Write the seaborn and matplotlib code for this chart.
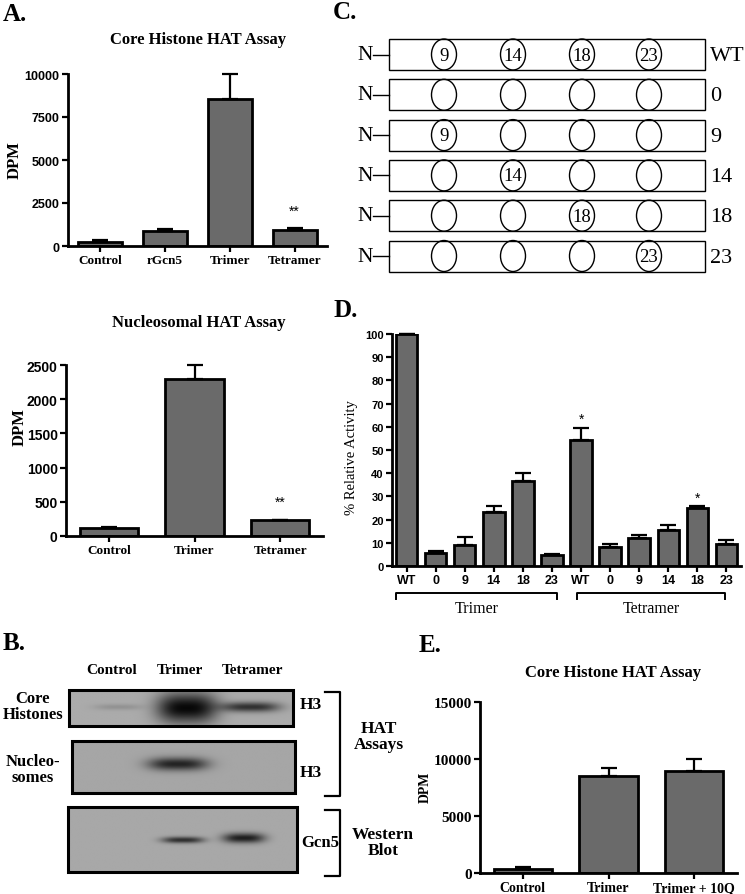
import numpy as np
import matplotlib
matplotlib.use("Agg")
import matplotlib.pyplot as plt
import seaborn as sns
from matplotlib.patches import Rectangle, Ellipse

# ---- data ----
core_cats = ["Control", "rGcn5", "Trimer", "Tetramer"]
core_dpm = [230, 870, 8530, 950]
core_err = [90, 130, 1470, 100]

nuc_cats = ["Control", "Trimer", "Tetramer"]
nuc_dpm = [122, 2295, 234]
nuc_err = [10, 200, 6]

mut_labels = ["WT", "0", "9", "14", "18", "23"]
trimer_act = [100, 5.5, 8.9, 23.3, 36.8, 4.9]
trimer_err = [0, 1.0, 3.6, 2.5, 3.5, 0.4]
tetramer_act = [54.2, 8.2, 11.9, 15.5, 24.9, 9.6]
tetramer_err = [5.2, 1.2, 1.6, 2.1, 1.0, 1.8]

e_cats = ["Control", "Trimer", "Trimer + 10Q"]
e_dpm = [350, 8500, 8950]
e_err = [150, 740, 1080]

lysines = [9, 14, 18, 23]
variants = ["WT", "0", "9", "14", "18", "23"]

blot_lanes = ["Control", "Trimer", "Tetramer"]
core_band = [0.15, 1.0, 0.75]
nuc_band = [0.0, 0.8, 0.0]
gcn5_band = [0.0, 0.75, 0.85]

SERIF = "Liberation Serif"
SANS = "Liberation Sans"
GRAY = "#6a6a6a"
W, H = 745, 895

fig = plt.figure(figsize=(W / 100, H / 100), dpi=100)


def axes_px(x0, ytop, x1, ybot):
    return fig.add_axes([x0 / W, 1 - ybot / H, (x1 - x0) / W, (ybot - ytop) / H])


# overlay in pixel coords for text and drawings
ov = fig.add_axes([0, 0, 1, 1])
ov.set_xlim(0, W)
ov.set_ylim(H, 0)
ov.axis("off")


def txt(x, y, s, size, family=SERIF, weight="bold", **kw):
    kw.setdefault("ha", "center")
    kw.setdefault("va", "center")
    ov.text(x, y, s, fontsize=size, family=family, fontweight=weight, **kw)


def bar_panel(rect, cats, vals, errs, ylim, yticks, width, yfont, xfont, xfs, yfs):
    ax = axes_px(*rect)
    sns.barplot(x=cats, y=vals, color=GRAY, saturation=1, edgecolor="black",
                linewidth=2, width=width, errorbar=None, ax=ax)
    n = len(vals)
    eb = ax.errorbar(np.arange(n), vals, yerr=[np.zeros(n), errs], fmt="none",
                     ecolor="black", elinewidth=1.6, capsize=6, capthick=1.6, zorder=4)
    for a in list(eb.lines[1]) + list(eb.lines[2]):
        a.set_clip_on(False)
    ax.set_xlim(-0.5, n - 0.5)
    ax.set_ylim(*ylim)
    ax.set_yticks(yticks)
    ax.set_xlabel("")
    ax.set_ylabel("")
    for s in ["top", "right"]:
        ax.spines[s].set_visible(False)
    for s in ["left", "bottom"]:
        ax.spines[s].set_linewidth(2)
    ax.tick_params(width=1.6, length=4, pad=2)
    ax.patch.set_alpha(0)
    for l in ax.get_xticklabels():
        l.set_fontfamily(xfont)
        l.set_fontweight("bold")
        l.set_fontsize(xfs)
    for l in ax.get_yticklabels():
        l.set_fontfamily(yfont)
        l.set_fontweight("bold")
        l.set_fontsize(yfs)
    return ax


# ---- A: core histone ----
axA1 = bar_panel((68, 75, 327, 247), core_cats, core_dpm, core_err, (0, 10000),
                 [0, 2500, 5000, 7500, 10000], 0.68, SANS, SERIF, 9.5, 9)
axA1.text(3, 2050, "**", ha="center", va="center", fontsize=10, family=SANS)
txt(3, 14, "A.", 18, ha="left")
txt(198, 40, "Core Histone HAT Assay", 12)
txt(15, 160, "DPM", 12, rotation=90)

# ---- A: nucleosomal ----
axA2 = bar_panel((66, 366, 323, 537), nuc_cats, nuc_dpm, nuc_err, (0, 2500),
                 [0, 500, 1000, 1500, 2000, 2500], 0.68, SANS, SERIF, 9.5, 10)
axA2.text(2, 500, "**", ha="center", va="center", fontsize=10, family=SANS)
txt(199, 323, "Nucleosomal HAT Assay", 12)
txt(20, 427, "DPM", 12, rotation=90)

# ---- B: blots ----
txt(3, 643, "B.", 18, ha="left")
for name, x in zip(blot_lanes, [112, 180, 252]):
    txt(x, 671, name, 11)

blots = [
    # box, band darkness, band geometry (cx, cy, half-width, half-height) per lane
    ((69, 691, 293, 727), core_band,
     [(118, 708, 24, 3), (187, 709, 30, 15), (251, 708, 29, 5)], 0.67),
    ((72, 742, 295, 794), nuc_band,
     [(118, 765, 24, 5), (178, 765, 30, 6.5), (244, 765, 26, 5)], 0.65),
    ((68, 808, 297, 873), gcn5_band,
     [(118, 841, 20, 3), (183, 841, 21, 3.2), (244, 839, 21, 5)], 0.66),
]
for (x0, y0, x1, y1), dark, geom, bg in blots:
    xs = np.linspace(x0, x1, 400)
    ys = np.linspace(y0, y1, 120)
    X, Y = np.meshgrid(xs, ys)
    img = np.full(X.shape, bg)
    for d, (cx, cy, hw, hh) in zip(dark, geom):
        img -= d * 0.64 * np.exp(-np.abs((X - cx) / hw) ** 3 - ((Y - cy) / hh) ** 2)
    ov.imshow(np.clip(img, 0, 1), cmap="gray", vmin=0, vmax=1, aspect="auto",
              extent=(x0, x1, y1, y0), interpolation="bilinear", zorder=1)
    ov.add_patch(Rectangle((x0, y0), x1 - x0, y1 - y0, fill=False, lw=2.2,
                           ec="black", zorder=2))

txt(33, 707, "Core\nHistones", 12, linespacing=1.0)
txt(33, 770, "Nucleo-\nsomes", 12, linespacing=1.0)
txt(311, 705, "H3", 12.5)
txt(311, 773, "H3", 12.5)
txt(320, 843, "Gcn5", 12)
for ya, yb in [(693, 797), (811, 877)]:
    ov.plot([325, 340, 340, 325], [ya, ya, yb, yb], color="black", lw=1.6,
            solid_joinstyle="round")
txt(379, 737, "HAT\nAssays", 12.5, linespacing=1.0)
txt(383, 843, "Western\nBlot", 12.5, linespacing=1.0)

# ---- C: histone tail diagrams ----
txt(333, 12, "C.", 18, ha="left")
ell_x = [444, 513, 582, 649]
for i, v in enumerate(variants):
    top = 40 + 40.3 * i
    hgt = 31
    cy = top + hgt / 2
    ov.add_patch(Rectangle((389, top), 316, hgt, fill=False, lw=1.0, ec="black"))
    ov.plot([373, 389], [cy, cy], color="black", lw=1.0)
    txt(373, cy, "N", 15.5, weight="normal", ha="right")
    for k, ex in zip(lysines, ell_x):
        ov.add_patch(Ellipse((ex, cy), 25, hgt, fill=False, lw=1.0, ec="black"))
        if v == "WT" or v == str(k):
            txt(ex, cy + 0.5, str(k), 13.5, weight="normal")
    txt(710, cy + 1, v, 16, weight="normal", ha="left")

# ---- D: relative activity ----
txt(333, 310, "D.", 18, ha="left")
d_keys = ["T" + m for m in mut_labels] + ["Q" + m for m in mut_labels]
axD = bar_panel((392, 335, 741, 567), d_keys, trimer_act + tetramer_act,
                trimer_err + tetramer_err, (0, 100), list(range(0, 101, 10)),
                0.74, SANS, SANS, 9, 8)
axD.set_xticks(range(12), mut_labels + mut_labels, fontsize=9,
               family=SANS, fontweight="bold")
axD.text(6, 63.5, "*", ha="center", va="center", fontsize=10, family=SANS)
axD.text(10, 29.5, "*", ha="center", va="center", fontsize=10, family=SANS)
txt(352, 458, "% Relative Activity", 10.5, weight="normal", rotation=90)
for xa, xb, name in [(396, 557, "Trimer"), (577, 725, "Tetramer")]:
    ov.plot([xa, xa, xb, xb], [600, 594, 594, 600], color="black", lw=1.4)
    txt((xa + xb) / 2, 609, name, 11.5, weight="normal")

# ---- E: core histone with 10Q ----
txt(419, 646, "E.", 18, ha="left")
axE = bar_panel((480, 703, 737, 874), e_cats, e_dpm, e_err, (0, 15000),
                [0, 5000, 10000, 15000], 0.68, SERIF, SERIF, 10, 11)
txt(613, 673, "Core Histone HAT Assay", 12)
txt(425, 787, "DPM", 10, rotation=90)

fig.savefig("out.png", dpi=100)
